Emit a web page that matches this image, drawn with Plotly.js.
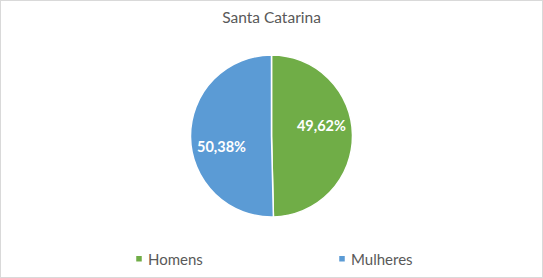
<!DOCTYPE html>
<html>
<head>
<meta charset="utf-8">
<script src="https://cdn.plot.ly/plotly-3.0.1.min.js"></script>
<style>
  html, body { margin: 0; padding: 0; background: #ffffff; }
  #wrap { position: relative; width: 543px; height: 278px; }
  #chart { width: 543px; height: 278px; }
  #frame { position: absolute; left: 0; top: 0; width: 541px; height: 276px; border: 1px solid #d9d9d9; pointer-events: none; }
</style>
</head>
<body>
<div id="wrap">
  <div id="chart"></div>
  <div id="frame"></div>
</div>
<script>
const chartTitle = "Santa Catarina";
const categories = ["Homens", "Mulheres"];
const values = [49.62, 50.38];
const colors = ["#70AD47", "#5B9BD5"];

const trace = {
  type: "pie",
  labels: categories,
  values: values,
  sort: false,
  direction: "clockwise",
  rotation: 0,
  marker: { colors: colors, line: { color: "#ffffff", width: 1.5 } },
  texttemplate: "%{percent:.2%}",
  textposition: "inside",
  insidetextorientation: "horizontal",
  textfont: { family: "Lato, 'Open Sans', sans-serif", size: 14.5, color: "#ffffff", weight: "bold" },
  hoverinfo: "label+percent"
};

const layout = {
  width: 543,
  height: 278,
  separators: ",.",
  paper_bgcolor: "#ffffff",
  plot_bgcolor: "#ffffff",
  margin: { l: 0, r: 0, t: 55, b: 61, autoexpand: false },
  title: {
    text: chartTitle,
    x: 0.5, xref: "paper", xanchor: "center",
    y: 1 - 18 / 278, yref: "container", yanchor: "middle",
    font: { family: "Lato, 'Open Sans', sans-serif", size: 15.5, color: "#595959" }
  },
  showlegend: true,
  legend: {
    orientation: "h",
    x: 108 / 543, xanchor: "left",
    y: -0.26, yanchor: "middle",
    entrywidth: 158, entrywidthmode: "pixels",
    font: { family: "Lato, 'Open Sans', sans-serif", size: 15, color: "#595959" },
    bgcolor: "rgba(0,0,0,0)"
  }
};

Plotly.newPlot("chart", [trace], layout, { displayModeBar: false, staticPlot: true }).then(function (gd) {
  // smaller legend squares, closer to the text (Excel style)
  document.querySelectorAll("path.legendpie").forEach(function (p) {
    p.setAttribute("d", "M14.5,3.5H7.5V-3.5H14.5Z");
  });
  // Excel-like "best fit" label placement: push labels outward and rotate slightly
  const cd = gd.calcdata[0];
  const cx = cd[0].cx, cy = cd[0].cy, r = cd[0].r;
  const ang = -11 * Math.PI / 180, rr = 0.63 * r;
  document.querySelectorAll("g.slicetext text").forEach(function (t) {
    const m = /translate\(([-\d.e]+),\s*([-\d.e]+)\)/.exec(t.getAttribute("transform") || "");
    if (!m) return;
    const bb = t.getBBox();
    const x0 = parseFloat(m[1]), y0 = parseFloat(m[2]);
    const px = x0 + bb.x + bb.width / 2, py = y0 + bb.y + bb.height / 2;
    let dx = px - cx, dy = py - cy;
    const d = Math.hypot(dx, dy) || 1;
    dx = dx / d * rr; dy = dy / d * rr;
    const nx = cx + dx * Math.cos(ang) - dy * Math.sin(ang);
    const ny = cy + dx * Math.sin(ang) + dy * Math.cos(ang);
    t.setAttribute("transform", "translate(" + (x0 + nx - px) + "," + (y0 + ny - py) + ")");
  });
});
</script>
</body>
</html>
